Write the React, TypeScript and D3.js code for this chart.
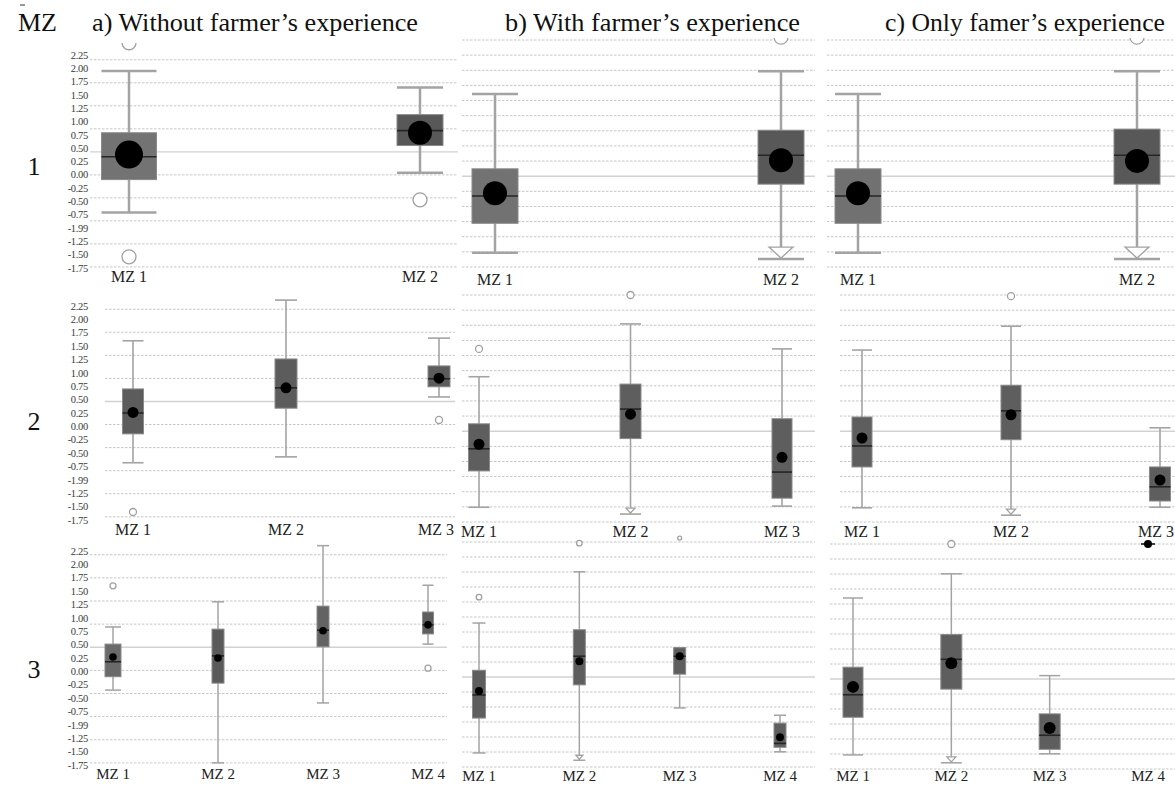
import React from "react";
import * as d3 from "d3";

// ---------- texts ----------
const columnTitles = [
  "a) Without farmer\u2019s experience",
  "b) With farmer\u2019s experience",
  "c) Only famer\u2019s experience",
];
const rowLabels = ["1", "2", "3"];
const tickValues = [2.25, 2.0, 1.75, 1.5, 1.25, 1.0, 0.75, 0.5, 0.25, 0, -0.25, -0.5, -0.75, -1.0, -1.25, -1.5, -1.75];
const tickLabels = ["2.25", "2.00", "1.75", "1.50", "1.25", "1.00", "0.75", "0.50", "0.25", "0.00", "-0.25", "-0.50", "-0.75", "-1.99", "-1.25", "-1.50", "-1.75"];

// ---------- data ----------
type Box = { zone: string; lo: number; q1: number; med: number; q3: number; hi: number; mean: number; out: number[]; tri?: boolean };

const row1a: Box[] = [
  { zone: "MZ 1", lo: -0.71, q1: -0.09, med: 0.34, q3: 0.79, hi: 1.95, mean: 0.38, out: [2.48, -1.54] },
  { zone: "MZ 2", lo: 0.04, q1: 0.55, med: 0.83, q3: 1.13, hi: 1.64, mean: 0.79, out: [-0.47] },
];
const row1b: Box[] = [
  { zone: "MZ 1", lo: -1.5, q1: -0.98, med: -0.5, q3: -0.02, hi: 1.3, mean: -0.45, out: [] },
  { zone: "MZ 2", lo: -1.61, q1: -0.29, med: 0.22, q3: 0.66, hi: 1.7, mean: 0.13, out: [2.3], tri: true },
];
const row1c: Box[] = [
  { zone: "MZ 1", lo: -1.5, q1: -0.98, med: -0.5, q3: -0.02, hi: 1.3, mean: -0.45, out: [] },
  { zone: "MZ 2", lo: -1.61, q1: -0.29, med: 0.22, q3: 0.68, hi: 1.7, mean: 0.12, out: [2.3], tri: true },
];
const row2a: Box[] = [
  { zone: "MZ 1", lo: -0.68, q1: -0.14, med: 0.25, q3: 0.7, hi: 1.6, mean: 0.26, out: [-1.6] },
  { zone: "MZ 2", lo: -0.57, q1: 0.34, med: 0.72, q3: 1.26, hi: 2.36, mean: 0.72, out: [] },
  { zone: "MZ 3", lo: 0.55, q1: 0.74, med: 0.89, q3: 1.13, hi: 1.65, mean: 0.9, out: [0.12] },
];
const row2b: Box[] = [
  { zone: "MZ 1", lo: -1.49, q1: -0.85, med: -0.46, q3: -0.02, hi: 0.81, mean: -0.38, out: [1.3] },
  { zone: "MZ 2", lo: -1.61, q1: -0.28, med: 0.24, q3: 0.68, hi: 1.74, mean: 0.15, out: [2.25], tri: true },
  { zone: "MZ 3", lo: -1.47, q1: -1.33, med: -0.87, q3: 0.07, hi: 1.3, mean: -0.61, out: [] },
];
const row2c: Box[] = [
  { zone: "MZ 1", lo: -1.5, q1: -0.78, med: -0.41, q3: 0.1, hi: 1.28, mean: -0.27, out: [] },
  { zone: "MZ 2", lo: -1.63, q1: -0.3, med: 0.21, q3: 0.66, hi: 1.7, mean: 0.14, out: [2.23], tri: true },
  { zone: "MZ 3", lo: -1.49, q1: -1.38, med: -1.13, q3: -0.78, hi: -0.09, mean: -1.01, out: [] },
];
const row3a: Box[] = [
  { zone: "MZ 1", lo: -0.35, q1: -0.1, med: 0.18, q3: 0.51, hi: 0.83, mean: 0.27, out: [1.6] },
  { zone: "MZ 2", lo: -1.71, q1: -0.22, med: 0.29, q3: 0.79, hi: 1.3, mean: 0.25, out: [] },
  { zone: "MZ 3", lo: -0.59, q1: 0.46, med: 0.77, q3: 1.22, hi: 2.35, mean: 0.76, out: [] },
  { zone: "MZ 4", lo: 0.51, q1: 0.7, med: 0.87, q3: 1.11, hi: 1.61, mean: 0.87, out: [0.06] },
];
const row3b: Box[] = [
  { zone: "MZ 1", lo: -1.5, q1: -0.88, med: -0.47, q3: -0.03, hi: 0.81, mean: -0.4, out: [1.27] },
  { zone: "MZ 2", lo: -1.63, q1: -0.29, med: 0.22, q3: 0.69, hi: 1.72, mean: 0.13, out: [2.23], tri: true },
  { zone: "MZ 3", lo: -0.7, q1: -0.1, med: 0.22, q3: 0.37, hi: 0.37, mean: 0.22, out: [2.32] },
  { zone: "MZ 4", lo: -1.48, q1: -1.4, med: -1.33, q3: -0.97, hi: -0.83, mean: -1.22, out: [] },
];
const row3c: Box[] = [
  { zone: "MZ 1", lo: -1.5, q1: -0.83, med: -0.43, q3: 0.06, hi: 1.29, mean: -0.29, out: [] },
  { zone: "MZ 2", lo: -1.64, q1: -0.33, med: 0.2, q3: 0.64, hi: 1.72, mean: 0.13, out: [2.25], tri: true },
  { zone: "MZ 3", lo: -1.48, q1: -1.4, med: -1.15, q3: -0.77, hi: -0.09, mean: -1.02, out: [] },
  { zone: "MZ 4", lo: 2.25, q1: 2.25, med: 2.25, q3: 2.25, hi: 2.25, mean: 2.25, out: [] },
];

// ---------- layout (positions / sizes / styles) ----------
type Panel = {
  row: number; col: number; data: Box[];
  yRange: [number, number]; xRange: [number, number]; gridX: [number, number];
  grid: [number, number, number, number]; // top value, bottom value, count, solid index
  boxW: number[]; dotR: number[]; outR: number; triW: number; triH: number;
  fills: string[]; labelY: number; labelSize: number; clipTop: number; whiskW: number;
};

const panels: Panel[] = [
  { row: 0, col: 0, data: row1a, yRange: [268, 55], xRange: [129, 420], gridX: [90, 458], grid: [2.16, -1.73, 10, 4],
    boxW: [55, 46], dotR: [14, 12], outR: 7, triW: 24, triH: 11, fills: ["#737373", "#585858"], labelY: 282, labelSize: 16, clipTop: 43, whiskW: 2.5 },
  { row: 0, col: 1, data: row1b, yRange: [267, 40], xRange: [495, 781], gridX: [462, 815], grid: [2.25, -1.75, 16, 9],
    boxW: [46, 46], dotR: [12, 12], outR: 7, triW: 24, triH: 11, fills: ["#727272", "#585858"], labelY: 285, labelSize: 16, clipTop: 38, whiskW: 2.5 },
  { row: 0, col: 2, data: row1c, yRange: [267, 40], xRange: [858, 1137], gridX: [827, 1175], grid: [2.25, -1.75, 16, 9],
    boxW: [46, 46], dotR: [12, 12], outR: 7, triW: 24, triH: 11, fills: ["#717171", "#585858"], labelY: 285, labelSize: 16, clipTop: 38, whiskW: 2.5 },
  { row: 1, col: 0, data: row2a, yRange: [520, 306], xRange: [133, 439], gridX: [105, 455], grid: [2.19, -1.69, 10, 4],
    boxW: [21, 22, 22], dotR: [5.5, 5.5, 5.5], outR: 3.5, triW: 8, triH: 5, fills: ["#5c5c5c", "#5c5c5c", "#5c5c5c"], labelY: 535, labelSize: 16, clipTop: 290, whiskW: 1.6 },
  { row: 1, col: 1, data: row2b, yRange: [522, 295], xRange: [479, 782], gridX: [462, 815], grid: [2.25, -1.75, 16, 9],
    boxW: [21, 21, 20], dotR: [5.5, 5.5, 5.5], outR: 3.5, triW: 9, triH: 5, fills: ["#5e5e5e", "#5e5e5e", "#5e5e5e"], labelY: 537, labelSize: 16, clipTop: 288, whiskW: 1.6 },
  { row: 1, col: 2, data: row2c, yRange: [522, 295], xRange: [862, 1160], gridX: [840, 1175], grid: [2.25, -1.75, 16, 9],
    boxW: [20, 20, 21], dotR: [5.5, 5.5, 5.5], outR: 3.5, triW: 9, triH: 5, fills: ["#5e5e5e", "#5e5e5e", "#5e5e5e"], labelY: 537, labelSize: 16, clipTop: 288, whiskW: 1.6 },
  { row: 2, col: 0, data: row3a, yRange: [765, 551], xRange: [113, 428], gridX: [90, 447], grid: [2.18, -1.71, 10, 4],
    boxW: [16, 12, 12, 11], dotR: [3.8, 3.8, 3.8, 3.8], outR: 3, triW: 8, triH: 5, fills: ["#6a6a6a", "#5a5a5a", "#636363", "#5e5e5e"], labelY: 779, labelSize: 15, clipTop: 540, whiskW: 1.5 },
  { row: 2, col: 1, data: row3b, yRange: [767, 542], xRange: [479, 780], gridX: [462, 815], grid: [2.25, -1.75, 16, 9],
    boxW: [13, 12, 12, 12], dotR: [4, 4, 4, 4], outR: 2.8, triW: 7, triH: 4, fills: ["#5e5e5e", "#5e5e5e", "#5e5e5e", "#5e5e5e"], labelY: 781, labelSize: 15, clipTop: 533, whiskW: 1.5 },
  { row: 2, col: 2, data: row3c, yRange: [769, 544], xRange: [853, 1148], gridX: [830, 1175], grid: [2.25, -1.75, 16, 9],
    boxW: [20, 21, 21, 14], dotR: [6, 6, 6, 4], outR: 3.5, triW: 9, triH: 5, fills: ["#5e5e5e", "#5e5e5e", "#5e5e5e", "#5e5e5e"], labelY: 781, labelSize: 15, clipTop: 533, whiskW: 1.5 },
];

const titleX = [92, 505, 885];
const titleW = [326, 295, 280];
const rowLabelY = [175, 430, 678];

const SERIF = "Liberation Serif, Times New Roman, serif";

function PanelView({ p, idx }: { p: Panel; idx: number }) {
  const y = d3.scaleLinear().domain([-1.75, 2.25]).range(p.yRange);
  const x = d3.scalePoint<string>().domain(p.data.map((d) => d.zone)).range(p.xRange).padding(0);
  const [gTop, gBot, gN, solidIdx] = p.grid;
  const gridVals = d3.range(gN).map((i) => gTop + ((gBot - gTop) * i) / (gN - 1));
  const clipId = `clip-${idx}`;
  const right = p.gridX[1];
  return (
    <g>
      <defs>
        <clipPath id={clipId}>
          <rect x={p.gridX[0] - 30} y={p.clipTop} width={right - p.gridX[0] + 60} height={800} />
        </clipPath>
      </defs>
      {gridVals.map((v, i) => (
        <line key={"g" + i} x1={p.gridX[0]} x2={right} y1={y(v)} y2={y(v)}
          stroke={i === solidIdx ? "#d2d2d2" : "#c6c6c6"} strokeWidth={i === solidIdx ? 1.4 : 1}
          strokeDasharray={i === solidIdx ? undefined : "2.5,1.5"} />
      ))}
      {p.col === 0 &&
        tickValues.map((v, i) => (
          <text key={"t" + i} x={88} y={y(v)} dy="0.35em" textAnchor="end" fontSize={10.5}
            fill="#3a3a3a" fontFamily={SERIF} letterSpacing={-0.3}>
            {tickLabels[i]}
          </text>
        ))}
      <g clipPath={`url(#${clipId})`}>
        {p.data.map((d, i) => {
          const cx = x(d.zone) as number;
          const w = p.boxW[i];
          const capLo = y(d.lo);
          return (
            <g key={d.zone}>
              <line x1={cx} x2={cx} y1={y(d.hi)} y2={y(d.q3)} stroke="#a3a3a3" strokeWidth={p.whiskW} />
              <line x1={cx} x2={cx} y1={y(d.q1)} y2={capLo} stroke="#a3a3a3" strokeWidth={p.whiskW} />
              <line x1={cx - w / 2} x2={cx + w / 2} y1={y(d.hi)} y2={y(d.hi)} stroke="#a3a3a3" strokeWidth={p.whiskW} />
              <line x1={cx - w / 2} x2={cx + w / 2} y1={capLo} y2={capLo} stroke="#a3a3a3" strokeWidth={p.whiskW} />
              {d.tri && (
                <path d={`M${cx - p.triW / 2},${capLo - p.triH - 1}L${cx + p.triW / 2},${capLo - p.triH - 1}L${cx},${capLo - 1}Z`}
                  fill="#fff" stroke="#a3a3a3" strokeWidth={1.3} />
              )}
              {d.q3 > d.q1 && (
                <rect x={cx - w / 2} y={y(d.q3)} width={w} height={y(d.q1) - y(d.q3)} fill={p.fills[i]}
                  stroke="#8a8a8a" strokeWidth={1} />
              )}
              <line x1={cx - w / 2} x2={cx + w / 2} y1={y(d.med)} y2={y(d.med)} stroke="#262626" strokeWidth={1.6} />
              <circle cx={cx} cy={y(d.mean)} r={p.dotR[i]} fill="#000" />
              {d.out.map((o, k) => (
                <circle key={k} cx={cx} cy={y(o)} r={o > 2.3 && p.row === 2 ? 2 : p.outR} fill="#fff" stroke="#a0a0a0" strokeWidth={1.3} />
              ))}
            </g>
          );
        })}
      </g>
      {p.data.map((d) => {
        const cx = Math.min(x(d.zone) as number, right - 19);
        return (
          <text key={"l" + d.zone} x={cx} y={p.labelY} textAnchor="middle" fontSize={p.labelSize} fill="#222" fontFamily={SERIF}>
            {d.zone}
          </text>
        );
      })}
    </g>
  );
}

export default function App() {
  const W = 1175;
  const H = 787;
  return (
    <svg width={W} height={H} style={{ position: "absolute", left: 0, top: 0, background: "#fff" }}>
      <rect width={W} height={H} fill="#fff" />
      <line x1={20} x2={25} y1={5} y2={5} stroke="#333" strokeWidth={1} />
      <text x={18} y={31} fontSize={26} fontFamily={SERIF} fill="#111">MZ</text>
      {columnTitles.map((t, i) => (
        <text key={t} x={titleX[i]} y={31} fontSize={26} fontFamily={SERIF} fill="#111"
          textLength={titleW[i]} lengthAdjust="spacingAndGlyphs">
          {t}
        </text>
      ))}
      {rowLabels.map((r, i) => (
        <text key={r} x={34} y={rowLabelY[i]} textAnchor="middle" fontSize={26} fontFamily={SERIF} fill="#111">
          {r}
        </text>
      ))}
      {panels.map((p, i) => (
        <PanelView key={i} p={p} idx={i} />
      ))}
    </svg>
  );
}
